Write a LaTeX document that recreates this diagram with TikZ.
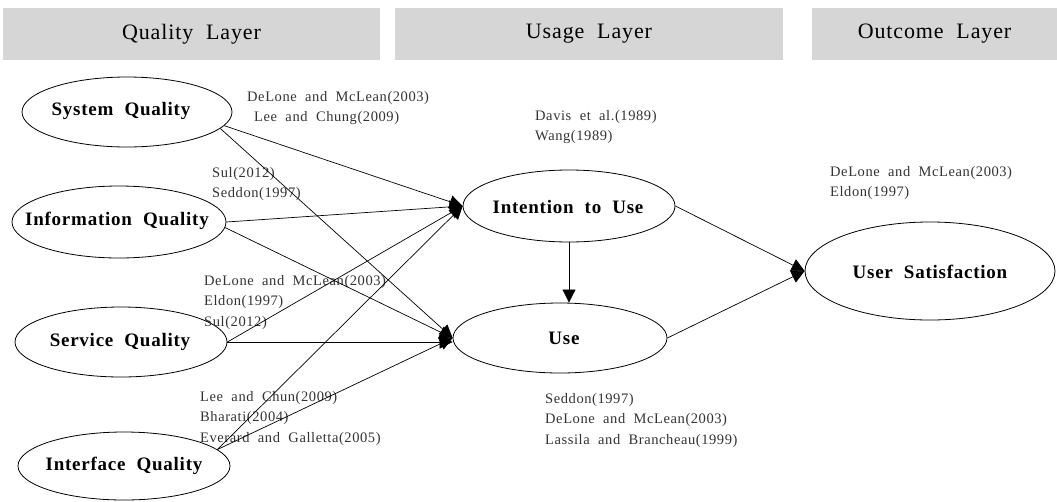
\documentclass[tikz,border=0pt]{standalone}
\usepackage{fontspec}
\setmainfont{Liberation Serif}[WordSpace=2, LetterSpace=4]
\usetikzlibrary{shapes.geometric,arrows.meta}
\definecolor{hdrgray}{HTML}{D6D6D6}
\definecolor{citegray}{HTML}{333333}
\begin{document}
\begin{tikzpicture}[x=1pt,y=-1pt,
  layerbox/.style={fill=hdrgray, draw=none, inner sep=0pt, minimum height=52pt, font=\fontsize{22}{24}\selectfont},
  construct/.style={ellipse, draw, line width=0.8pt, inner sep=0pt},
  ctext/.style={inner sep=0pt, font=\fontsize{19}{22}\selectfont\bfseries},
  cite/.style={anchor=north west, align=left, text=citegray, inner sep=0pt, font=\fontsize{14.5}{20.5}\selectfont},
  link/.style={-{Triangle[length=13pt,width=13pt]}, line width=0.7pt}]
\useasboundingbox (0,0) rectangle (1057,501);
% header layers
\node[layerbox, minimum width=377pt] (ql) at (191.5,34) {Quality Layer};
\node[layerbox, minimum width=388pt] (ul) at (589,34) {Usage Layer};
\node[layerbox, minimum width=245pt] (ol) at (934.5,34) {Outcome Layer};
% constructs
\node[construct, minimum width=210pt, minimum height=70pt] (sys) at (127,112) {};
\node[construct, minimum width=214pt, minimum height=72pt] (inf) at (119,222) {};
\node[construct, minimum width=212pt, minimum height=70pt] (ser) at (121,342) {};
\node[construct, minimum width=212pt, minimum height=68pt] (itf) at (124,466) {};
\node[construct, minimum width=212pt, minimum height=72pt] (int) at (569,206) {};
\node[construct, minimum width=214pt, minimum height=70pt] (use) at (560,338) {};
\node[construct, minimum width=250pt, minimum height=98pt] (sat) at (930,271) {};
\node[ctext] (tsys) at (121,111) {System Quality};
\node[ctext] (tinf) at (117,221) {Information Quality};
\node[ctext] (tser) at (120,342) {Service Quality};
\node[ctext] (titf) at (124,466) {Interface Quality};
\node[ctext] (tint) at (568,207) {Intention to Use};
\node[ctext] (tuse) at (564,338) {Use};
\node[ctext] (tsat) at (930,272) {User Satisfaction};
% citations
\node[cite] (c1) at (247,91) {DeLone and McLean(2003)\\\hspace*{7pt}Lee and Chung(2009)};
\node[cite] (c2) at (212,167) {Sul(2012)\\Seddon(1997)};
\node[cite] (c3) at (204,275) {DeLone and McLean(2003)\\Eldon(1997)\\Sul(2012)};
\node[cite] (c4) at (200,391) {Lee and Chun(2009)\\Bharati(2004)\\Everard and Galletta(2005)};
\node[cite] (c5) at (535,110) {Davis et al.(1989)\\Wang(1989)};
\node[cite] (c6) at (545,393) {Seddon(1997)\\DeLone and McLean(2003)\\Lassila and Brancheau(1999)};
\node[cite] (c7) at (830,166) {DeLone and McLean(2003)\\Eldon(1997)};
% connectors
\draw[link] (sys.-8) -- (int.west);
\draw[link] (sys.-10) -- (use.west);
\draw[link] (inf.east) -- (int.west);
\draw[link] (inf.-3) -- (use.west);
\draw[link] (ser.east) -- (int.west);
\draw[link] (ser.east) -- (ser.east -| use.west);
\draw[link] (itf.10) -- (int.west);
\draw[link] (itf.10) -- (use.west);
\draw[link] (int.south) -- (int.south |- use.north);
\draw[link] (int.east) -- (sat.west);
\draw[link] (use.east) -- (sat.west);
\end{tikzpicture}
\end{document}
